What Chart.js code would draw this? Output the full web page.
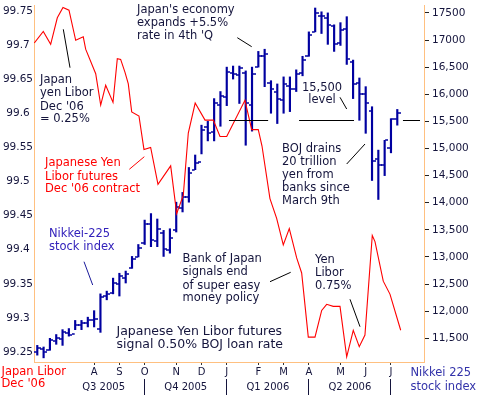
<!DOCTYPE html>
<html><head><meta charset="utf-8">
<script src="https://cdn.jsdelivr.net/npm/chart.js@4.4.1/dist/chart.umd.min.js"></script>
<style>html,body{margin:0;padding:0;background:#fff;}canvas{display:block;}</style>
</head><body>
<canvas id="c" width="480" height="395"></canvas>
<script>
// ---- Weekly Nikkei-225 bars (week index 0..57), right axis ----
const nikkeiHigh  = [11370,11340,11500,11570,11660,11680,11830,11830,11890,12010,12320,12370,12610,12700,12740,13010,13230,13680,13800,13700,13490,13520,14010,14190,14650,14880,15430,15500,15920,16050,16500,16520,16520,16430,16500,16790,16830,16250,16190,16320,16320,16450,16700,17150,17590,17520,17500,17280,17320,17430,16630,16300,16140,15770,14970,15150,15550,15720];
const nikkeiLow   = [11190,11140,11280,11390,11370,11540,11660,11660,11710,11710,11610,12210,12320,12280,12520,12790,13000,13230,13190,13190,13010,13070,13460,13830,14010,14610,14900,15140,15140,15410,15790,16280,15830,15060,15320,16500,16140,15650,15460,15650,15680,16050,16340,16700,17150,17120,16920,16790,16900,16550,15920,15520,15280,14410,14060,14500,14920,15430];
const nikkeiOpen  = [11250,11300,11290,11450,11480,11600,11580,11740,11780,11840,11680,12280,12330,12500,12620,12800,13000,13250,13600,13300,13450,13120,13500,13900,14100,14600,14750,15400,15300,15800,15950,16400,16350,16400,15800,16500,16700,16200,16050,15900,16150,16100,16400,16700,17150,17450,17400,17250,16950,17200,16600,16200,16000,15700,14800,14700,15000,15550];
const nikkeiClose = [11320,11250,11460,11500,11610,11560,11750,11790,11830,11860,12260,12320,12520,12640,12680,12960,13170,13610,13320,13520,13140,13350,13920,14100,14550,14740,15350,15280,15830,15970,16410,16370,16480,15830,16380,16700,16740,16100,15920,16190,16100,16370,16630,17100,17500,17450,17280,16920,17190,16650,16190,16010,15830,14770,14700,15150,15550,15650];

// ---- Japan Yen Libor futures, Dec '06 contract (left axis) ----
const liborWeeks  = [-0.47,0.95,2.12,3.17,4.07,5.02,6.08,7.28,7.66,9.25,10.04,10.83,11.99,12.67,13.2,13.89,14.41,14.95,16.1,16.89,17.95,19.11,21.12,22.07,23.12,23.91,25.0,26.56,27.87,28.93,29.99,32.88,33.95,34.99,35.58,36.84,37.9,38.95,39.9,41.07,41.86,42.91,43.97,45.03,45.82,46.86,47.93,48.99,50.03,50.98,51.88,53.04,53.47,54.78,55.84,57.54];
const liborValues = [99.703,99.720,99.701,99.740,99.755,99.751,99.707,99.712,99.694,99.658,99.612,99.641,99.616,99.680,99.679,99.660,99.643,99.602,99.596,99.547,99.550,99.496,99.523,99.453,99.480,99.571,99.615,99.590,99.590,99.566,99.566,99.619,99.576,99.576,99.552,99.475,99.446,99.407,99.431,99.388,99.366,99.272,99.272,99.311,99.320,99.317,99.317,99.243,99.282,99.258,99.275,99.421,99.412,99.354,99.335,99.282];

// ---- Axis ticks ----
const monthTickWeeks  = [9,13,17,22,26,30,35,39,43,48,52,56];
const monthTickLabels = ['A','S','O','N','D','J','F','M','A','M','J','J'];
const quarterLabels = ['Q3 2005','Q4 2005','Q1 2006','Q2 2006'];
const quarterEndWeeks = [17,30,43,56];
const leftTickValues = [99.25,99.3,99.35,99.4,99.45,99.5,99.55,99.6,99.65,99.7,99.75];
const leftTickLabels = ['99.25','99.3','99.35','99.4','99.45','99.5','99.55','99.6','99.65','99.7','99.75'];
const rightTickValues = [11500,12000,12500,13000,13500,14000,14500,15000,15500,16000,16500,17000,17500];
const rightTickLabels = ['11,500','12,000','12,500','13,000','13,500','14,000','14,500','15,000','15,500','16,000','16,500','17000','17500'];
const levelValue = 15500;

const BAR = '#0000a0';
const NAVY = '#14143c';
const FONT = 'DejaVu Sans';

function tickImage(side){
  const c = document.createElement('canvas');
  c.width = 7; c.height = 2;
  const g = c.getContext('2d');
  g.fillStyle = BAR;
  if (side === 'right') g.fillRect(4,0.25,3,1.5); else g.fillRect(0,0.25,3,1.5);
  return c;
}

const annotations = {
  id: 'annotations',
  afterDatasetsDraw(chart){
    const ctx = chart.ctx, xs = chart.scales.x, yR = chart.scales.yR;
    ctx.save();
    const yl = Math.round(yR.getPixelForValue(levelValue)) - 0.5;
    ctx.strokeStyle = '#000'; ctx.lineWidth = 1;
    [[30.35,36.55],[41.45,50.15],[57.9,60.6]].forEach(([a,b])=>{
      ctx.beginPath();
      ctx.moveTo(xs.getPixelForValue(a), yl);
      ctx.lineTo(xs.getPixelForValue(b), yl);
      ctx.stroke();
    });
    ctx.restore();
  },
  afterDraw(chart){
    const ctx = chart.ctx, xs = chart.scales.x;
    ctx.save();
    ctx.textBaseline = 'middle';
    const blocks = [
      {x:137, ys:[10,23.3,35.7], lines:["Japan's economy","expands +5.5%","rate in 4th 'Q"], color:NAVY, size:11.5},
      {x:40, ys:[80,93.3,106.7,119.3], lines:['Japan','yen Libor',"Dec '06",'= 0.25%'], color:NAVY, size:11.5},
      {x:45, ys:[163.3,176.7,189.3], lines:['Japanese Yen','Libor futures',"Dec '06 contract"], color:'#ff0000', size:11.5},
      {x:49, ys:[234,247.3], lines:['Nikkei-225','stock index'], color:'#3322bb', size:11.5},
      {x:322, ys:[88.3,100.3], lines:['15,500','level'], color:NAVY, size:11.5, align:'center'},
      {x:282, ys:[149,161.8,175,187.8,200.7], lines:['BOJ drains','20 trillion','yen from','banks since','March 9th'], color:NAVY, size:11.5},
      {x:182.5, ys:[259.3,272,285.7,298.3], lines:['Bank of Japan','signals end','of super easy','money policy'], color:NAVY, size:11.5},
      {x:315, ys:[260,272.7,286], lines:['Yen','Libor','0.75%'], color:NAVY, size:11.5},
      {x:116.5, ys:[331.7,344.5], lines:['Japanese Yen Libor futures','signal 0.50% BOJ loan rate'], color:NAVY, size:12.5},
      {x:1.5, ys:[371.7,384.3], lines:['Japan Libor',"Dec '06"], color:'#ff0000', size:11.5},
      {x:410.5, ys:[373.3,386.7], lines:['Nikkei 225','stock index'], color:'#3333aa', size:11.5}
    ];
    blocks.forEach(b=>{
      ctx.font = b.size + 'px "' + FONT + '"';
      ctx.fillStyle = b.color;
      ctx.textAlign = b.align || 'left';
      b.lines.forEach((t,i)=>ctx.fillText(t, b.x, b.ys[i]));
    });
    const leaders = [
      [63.3,29.3,70,67.7,'#000'],
      [129.3,169.3,144.3,156.7,'#ff0000'],
      [84,261.7,92.7,285,'#1a1a9a'],
      [237.3,37.7,251.7,46.7,'#000'],
      [340,97.3,346.7,109,'#000'],
      [346.7,164,365,144,'#000'],
      [270,281.7,290.7,272.3,'#000'],
      [350,299.3,360,326.7,'#000']
    ];
    ctx.lineWidth = 1;
    leaders.forEach(([x1,y1,x2,y2,c])=>{
      ctx.strokeStyle = c; ctx.beginPath(); ctx.moveTo(x1,y1); ctx.lineTo(x2,y2); ctx.stroke();
    });
    ctx.font = '10px "' + FONT + '"';
    ctx.fillStyle = NAVY; ctx.textAlign = 'center';
    ctx.strokeStyle = NAVY;
    quarterLabels.forEach((q,i)=>{
      const xe = quarterEndWeeks[i];
      ctx.fillText(q, xs.getPixelForValue(xe - 6.5), 387.5);
      const px = Math.round(xs.getPixelForValue(xe)) - 0.5;
      ctx.beginPath(); ctx.moveTo(px, 379); ctx.lineTo(px, 395); ctx.stroke();
    });
    ctx.restore();
  }
};

new Chart(document.getElementById('c'), {
  type: 'bar',
  data: {
    datasets: [
      {
        type: 'line', label: 'Libor', yAxisID: 'yL',
        data: liborWeeks.map((w,i)=>({x:w, y:liborValues[i]})),
        borderColor: '#ff0000', borderWidth: 1.1, pointRadius: 0, tension: 0, order: 1
      },
      {
        type: 'bar', label: 'Nikkei range', yAxisID: 'yR',
        data: nikkeiHigh.map((h,i)=>({x:i, y:[nikkeiLow[i], h]})),
        backgroundColor: BAR, borderWidth: 0, barThickness: 1.5, order: 2
      },
      {
        type: 'scatter', label: 'Open', yAxisID: 'yR',
        data: nikkeiOpen.map((v,i)=>({x:i, y:v})),
        pointStyle: tickImage('left'), pointRadius: 3, order: 3
      },
      {
        type: 'scatter', label: 'Close', yAxisID: 'yR',
        data: nikkeiClose.map((v,i)=>({x:i, y:v})),
        pointStyle: tickImage('right'), pointRadius: 3, order: 3
      }
    ]
  },
  options: {
    responsive: false, animation: false, devicePixelRatio: 1,
    layout: {padding: 0},
    plugins: {legend: {display: false}, tooltip: {enabled: false}},
    scales: {
      x: {
        type: 'linear', position: 'bottom', min: -0.52, max: 61.23, offset: false,
        afterBuildTicks: s => { s.ticks = monthTickWeeks.map(v=>({value:v})); },
        afterFit: s => { s.height = 33; s.paddingLeft = 0; s.paddingRight = 0; },
        ticks: {
          autoSkip: false, maxRotation: 0, padding: 1,
          callback: (v, i) => monthTickLabels[i],
          font: {family: FONT, size: 10}, color: NAVY
        },
        grid: {offset: false, drawOnChartArea: false, drawTicks: true, tickLength: 3, tickColor: '#333'},
        border: {color: '#ffc080', width: 1}
      },
      yL: {
        type: 'linear', position: 'left', min: 99.2355, max: 99.7587,
        afterBuildTicks: s => { s.ticks = leftTickValues.map(v=>({value:v})); },
        afterFit: s => { s.width = 34; s.paddingTop = 0; s.paddingBottom = 0; },
        ticks: {
          crossAlign: 'center', padding: 1,
          callback: (v, i) => leftTickLabels[i],
          font: {family: FONT, size: 10.5}, color: NAVY
        },
        grid: {drawOnChartArea: false, drawTicks: false},
        border: {color: '#ffc080', width: 1}
      },
      yR: {
        type: 'linear', position: 'right', min: 11063.6, max: 17645.5,
        afterBuildTicks: s => { s.ticks = rightTickValues.map(v=>({value:v})); },
        afterFit: s => { s.width = 56; s.paddingTop = 0; s.paddingBottom = 0; },
        ticks: {
          padding: 3,
          callback: (v, i) => rightTickLabels[i],
          font: {family: FONT, size: 10.5}, color: NAVY
        },
        grid: {drawOnChartArea: false, drawTicks: true, tickLength: 5, tickColor: '#222'},
        border: {color: '#ffc080', width: 1}
      }
    }
  },
  plugins: [annotations]
});
</script>
</body></html>
